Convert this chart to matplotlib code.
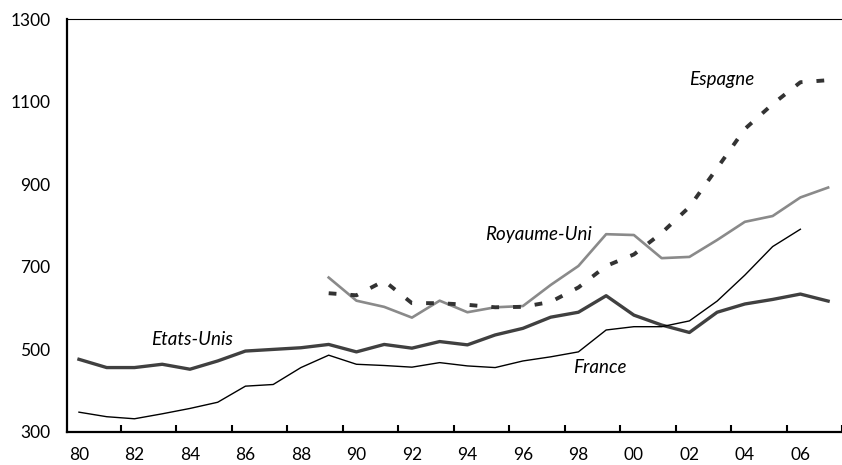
import matplotlib
matplotlib.use("Agg")
import matplotlib.pyplot as plt
import numpy as np

plt.rcParams['font.family'] = ['Lato', 'DejaVu Sans']

years = list(range(1980, 2008))
year_labels = ['80', '82', '84', '86', '88', '90', '92', '94', '96', '98', '00', '02', '04', '06']

# Etats-Unis 1980-2007
etats_unis = [476, 456, 456, 464, 452, 472, 496, 500, 504, 512, 494, 512, 503,
              519, 511, 535, 551, 578, 590, 630, 583, 559, 541, 590, 610, 621, 634, 617]
# France 1980-2006
france = [348, 337, 332, 344, 357, 372, 411, 415, 456, 486, 464, 461, 457,
          468, 460, 456, 472, 482, 494, 547, 555, 555, 569, 617, 680, 749, 791]
# Royaume-Uni 1989-2007
royaume_uni = [674, 618, 603, 577, 618, 590, 602, 605, 656, 702, 779, 777, 721,
               724, 765, 809, 823, 868, 892]
# Espagne 1989-2007
espagne = [636, 631, 666, 612, 612, 608, 602, 603, 615, 650, 702, 730, 782,
           845, 939, 1034, 1094, 1147, 1152]

x = np.arange(len(years))
x_fr = x[:len(france)]
x_late = x[9:]

fig = plt.figure(figsize=(8.42, 4.65), dpi=100)
ax = fig.add_axes([0.0796, 0.071, 0.9204, 0.888])

ax.plot(x, etats_unis, color='#404040', lw=2.4)
ax.plot(x_fr, france, color='black', lw=1.0)
ax.plot(x_late, royaume_uni, color='#8a8a8a', lw=1.9)
ax.plot(x_late, espagne, color='#333333', lw=2.8, dashes=(2.0, 3.6), dash_capstyle='butt')

lab = dict(fontsize=13.5, style='italic', va='baseline', ha='left')
ax.text(2.6, 510, 'Etats-Unis', **lab)
ax.text(14.65, 765, 'Royaume-Uni', **lab)
ax.text(22.0, 1140, 'Espagne', **lab)
ax.text(17.8, 443, 'France', **lab)

ax.set_xlim(-0.43, 27.2)
ax.set_ylim(300, 1300)
ax.set_yticks(range(300, 1301, 200))
ax.set_xticks(x[::2])
ax.set_xticklabels(year_labels)
ax.set_xticks(x[1::2] + 0.5, minor=True)
ax.tick_params(axis='x', which='major', length=0, pad=11, labelsize=12.5)
ax.tick_params(axis='x', which='minor', direction='in', length=5, width=1.5)
ax.tick_params(axis='y', length=0, pad=12, labelsize=12.5)

ax.spines['right'].set_visible(False)
ax.spines['left'].set_linewidth(1.6)
ax.spines['bottom'].set_linewidth(1.6)
ax.spines['top'].set_linewidth(0.8)

fig.savefig('out.png', dpi=100)
